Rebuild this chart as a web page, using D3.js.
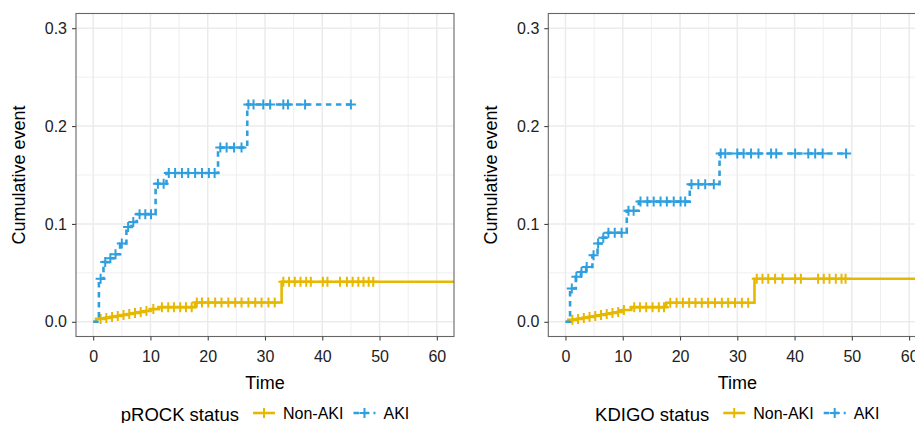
<!DOCTYPE html>
<html>
<head>
<meta charset="utf-8">
<script src="https://cdn.jsdelivr.net/npm/d3@7"></script>
<style>
    body { margin: 0; background: #fff; }
    svg { display: block; font-family: "Liberation Sans", Arial, Helvetica, sans-serif; }
</style>
</head>
<body>
<div id="chart"></div>
<script>
// ---- data ----
const timeTicks = [0, 10, 20, 30, 40, 50, 60];
const timeMinor = [5, 15, 25, 35, 45, 55];
const eventTicks = [0.0, 0.1, 0.2, 0.3];
const eventMinor = [0.05, 0.15, 0.25];
const groups = ["Non-AKI", "AKI"];

// pROCK panel
const prockNonAkiTime = [0, 0.5, 2, 3, 4, 5, 6, 7, 8, 9, 10, 11.5, 17.8, 32.9];
const prockNonAkiEvent = [0, 0.003, 0.004, 0.005, 0.006, 0.007, 0.008, 0.009, 0.010, 0.011, 0.013, 0.015, 0.0197, 0.041];
const prockNonAkiEnd = 70;
const prockNonAkiCensor = [1.3, 2.3, 3.3, 4.3, 5.3, 6.3, 7.3, 8.3, 9.3, 10.5, 12, 13.1, 14.1, 15.2, 16.2, 17.2,
    18.1, 19.0, 20.1, 21.3, 22.4, 23.6, 24.8, 25.9, 27.1, 28.3, 29.4, 30.6, 31.7,
    33.2, 34.2, 35.2, 36.2, 37.2, 38, 40.1, 40.9, 43.1, 44.3, 45.3, 46.3, 47.2, 48.1, 48.9];

const prockAkiTime = [0, 1, 1.8, 2.7, 3.6, 4.7, 5.8, 6.7, 7.6, 10.9, 12.8, 21.8, 26.9];
const prockAkiEvent = [0, 0.044, 0.061, 0.065, 0.069, 0.080, 0.097, 0.102, 0.110, 0.141, 0.152, 0.178, 0.222];
const prockAkiEnd = 45;
const prockAkiCensor = [1.3, 2.1, 3.0, 3.9, 5.0, 6.1, 7.0, 8.1, 9.1, 10.1, 11.3, 12.3,
    13.2, 14.3, 15.5, 16.6, 17.8, 19.0, 20.2, 21.2, 22.2, 23.3, 24.6, 25.9,
    27.1, 28.0, 29.7, 30.9, 33.2, 34.0, 37.0, 45];

// KDIGO panel
const kdigoNonAkiTime = [0, 0.5, 2, 3, 4, 5, 6, 7, 8, 9, 10, 11.5, 17.6, 33];
const kdigoNonAkiEvent = [0, 0.002, 0.003, 0.004, 0.005, 0.006, 0.007, 0.008, 0.009, 0.010, 0.012, 0.015, 0.0195, 0.044];
const kdigoNonAkiEnd = 70;
const kdigoNonAkiCensor = [1.2, 2.2, 3.2, 4.2, 5.2, 6.2, 7.2, 8.2, 9.2, 10.2, 12, 13, 14.1, 15.2, 16.3, 17.2,
    18.3, 19.4, 20.5, 21.6, 22.7, 23.8, 24.9, 26.1, 27.3, 28.4, 29.6, 30.8, 31.9,
    33.4, 34.4, 35.4, 36.6, 37.9, 40.1, 41.1, 44.1, 45.1, 46.1, 47.2, 48.2, 48.9];

const kdigoAkiTime = [0, 0.8, 1.8, 2.7, 3.6, 4.7, 5.6, 6.5, 7.4, 10.7, 12.8, 21.7, 26.9];
const kdigoAkiEvent = [0, 0.034, 0.046, 0.051, 0.056, 0.068, 0.080, 0.086, 0.091, 0.1135, 0.1228, 0.1405, 0.172];
const kdigoAkiEnd = 49;
const kdigoAkiCensor = [1.1, 1.9, 2.8, 3.7, 4.9, 5.7, 6.6, 7.5, 8.6, 9.8, 11.0, 11.9,
    13.1, 14.3, 15.4, 16.6, 17.7, 18.9, 20.1, 20.9, 22.0, 23.2, 24.4, 25.9,
    27.1, 27.9, 30.0, 31.1, 32.4, 33.7, 35.9, 36.8, 40.1, 42.4, 43.6, 44.9, 49];

const colors = {"Non-AKI": "#E7B800", "AKI": "#2E9FDF"};
const dashes = {"Non-AKI": null, "AKI": "5.5,4.5"};

const width = 915, height = 423;
const panelTop = 13.5, panelBottom = 336.5, panelW = 378;

const svg = d3.select("#chart")
    .append("svg")
    .attr("width", width)
    .attr("height", height);

function makeSeries(name, time, event, end, censor) {
    let pts = time.map((t, i) => [t, event[i]]);
    pts.push([end, event[event.length - 1]]);
    let valueAt = t => {
        let v = 0;
        time.forEach((tt, i) => { if (tt <= t) v = event[i]; });
        return v;
    };
    return {name: name, pts: pts, marks: censor.map(t => [t, valueAt(t)])};
}

function drawPanel(left, idx, title, series) {
    let x = d3.scaleLinear().domain([-3, 63]).range([left, left + panelW]);
    let y = d3.scaleLinear().domain([-0.015, 0.315]).range([panelBottom, panelTop]);

    let g = svg.append("g");

    g.append("clipPath").attr("id", "clip" + idx)
        .append("rect")
        .attr("x", left).attr("y", panelTop)
        .attr("width", panelW).attr("height", panelBottom - panelTop);

    // grid (minor first, then major)
    g.selectAll(".xminor").data(timeMinor).join("line")
        .attr("x1", d => x(d)).attr("x2", d => x(d))
        .attr("y1", panelTop).attr("y2", panelBottom)
        .attr("stroke", "#EBEBEB").attr("stroke-width", 0.8);
    g.selectAll(".yminor").data(eventMinor).join("line")
        .attr("x1", left).attr("x2", left + panelW)
        .attr("y1", d => y(d)).attr("y2", d => y(d))
        .attr("stroke", "#EBEBEB").attr("stroke-width", 0.8);
    g.append("g").selectAll("line").data(timeTicks).join("line")
        .attr("x1", d => x(d)).attr("x2", d => x(d))
        .attr("y1", panelTop).attr("y2", panelBottom)
        .attr("stroke", "#EBEBEB").attr("stroke-width", 1.5);
    g.append("g").selectAll("line").data(eventTicks).join("line")
        .attr("x1", left).attr("x2", left + panelW)
        .attr("y1", d => y(d)).attr("y2", d => y(d))
        .attr("stroke", "#EBEBEB").attr("stroke-width", 1.5);

    // curves
    let line = d3.line()
        .x(d => x(d[0]))
        .y(d => y(d[1]))
        .curve(d3.curveStepAfter);

    let plot = g.append("g").attr("clip-path", "url(#clip" + idx + ")");
    series.forEach(s => {
        plot.append("path")
            .datum(s.pts)
            .attr("d", line)
            .attr("fill", "none")
            .attr("stroke", colors[s.name])
            .attr("stroke-width", 2.6)
            .attr("stroke-dasharray", dashes[s.name]);
        plot.selectAll(null).data(s.marks).join("path")
            .attr("transform", d => `translate(${x(d[0])},${y(d[1])})`)
            .attr("d", "M-5,0H5M0,-5V5")
            .attr("stroke", colors[s.name])
            .attr("stroke-width", 2);
    });

    // panel border
    g.append("rect")
        .attr("x", left).attr("y", panelTop)
        .attr("width", panelW).attr("height", panelBottom - panelTop)
        .attr("fill", "none").attr("stroke", "#666").attr("stroke-width", 1.1);

    // axes
    let xAxis = g.append("g")
        .attr("transform", `translate(0,${panelBottom})`)
        .call(d3.axisBottom(x).tickValues(timeTicks).tickSize(4).tickPadding(10));
    let yAxis = g.append("g")
        .attr("transform", `translate(${left},0)`)
        .call(d3.axisLeft(y).tickValues(eventTicks).tickFormat(d3.format(".1f")).tickSize(4).tickPadding(5));
    [xAxis, yAxis].forEach(a => {
        a.select(".domain").remove();
        a.selectAll(".tick line").attr("stroke", "#444").attr("stroke-width", 1.1);
        a.selectAll(".tick text")
            .attr("fill", "#222")
            .style("font-size", "16px")
            .style("font-family", "'Liberation Sans', Arial, Helvetica, sans-serif");
    });

    // axis titles
    g.append("text")
        .attr("x", left + panelW / 2).attr("y", 388.5)
        .attr("text-anchor", "middle")
        .style("font-size", "18px")
        .text("Time");
    g.append("text")
        .attr("transform", `translate(${left - 51},${(panelTop + panelBottom) / 2}) rotate(-90)`)
        .attr("text-anchor", "middle")
        .style("font-size", "18px")
        .text("Cumulative event");

    // legend, centered under the panel
    let leg = g.append("g");
    let ly = 413;
    let tt = leg.append("text").attr("y", ly + 8).style("font-size", "18.5px").text(title);
    let cx = tt.node().getComputedTextLength() + 14;
    groups.forEach((name, i) => {
        let k = leg.append("g").attr("transform", `translate(${cx},${ly})`);
        k.append("line").attr("x1", 0).attr("x2", 22)
            .attr("stroke", colors[name]).attr("stroke-width", 2.6)
            .attr("stroke-dasharray", dashes[name]);
        k.append("path").attr("d", "M6,0H16M11,-5V5")
            .attr("stroke", colors[name]).attr("stroke-width", 2);
        cx += 30;
        let lt = leg.append("text").attr("x", cx).attr("y", ly + 6)
            .style("font-size", "16px").text(name);
        cx += lt.node().getComputedTextLength() + 10;
    });
    let total = cx - 10;
    leg.attr("transform", `translate(${left + panelW / 2 - total / 2},0)`);
}

drawPanel(76, 0, "pROCK status", [
    makeSeries("Non-AKI", prockNonAkiTime, prockNonAkiEvent, prockNonAkiEnd, prockNonAkiCensor),
    makeSeries("AKI", prockAkiTime, prockAkiEvent, prockAkiEnd, prockAkiCensor)
]);
drawPanel(548.3, 1, "KDIGO status", [
    makeSeries("Non-AKI", kdigoNonAkiTime, kdigoNonAkiEvent, kdigoNonAkiEnd, kdigoNonAkiCensor),
    makeSeries("AKI", kdigoAkiTime, kdigoAkiEvent, kdigoAkiEnd, kdigoAkiCensor)
]);
</script>
</body>
</html>
